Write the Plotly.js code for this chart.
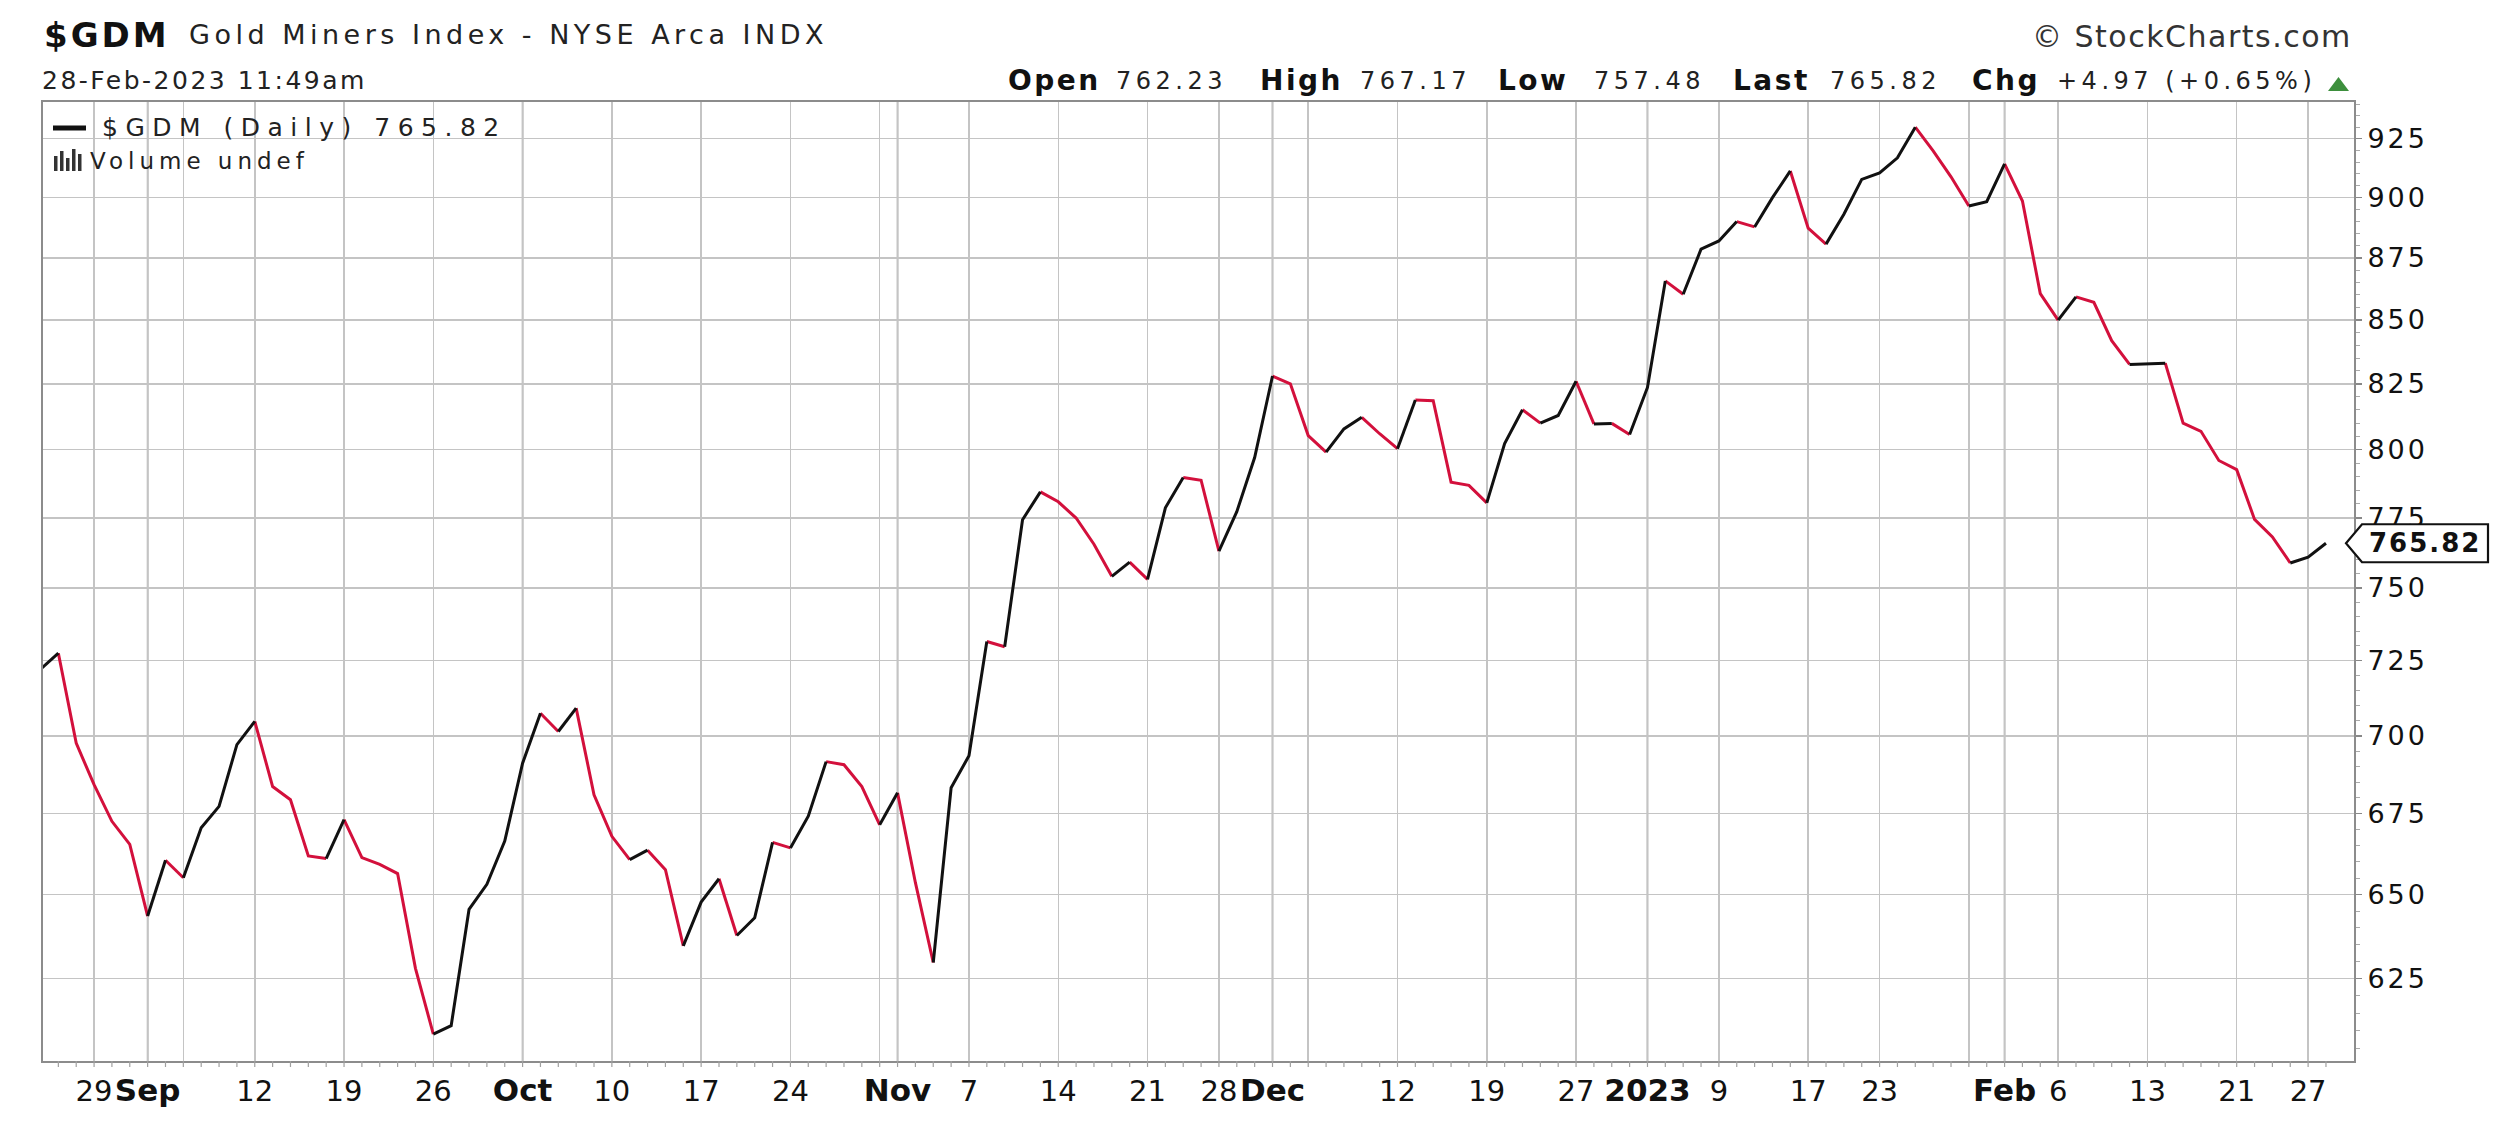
<!DOCTYPE html>
<html>
<head>
<meta charset="utf-8">
<script src="https://cdn.plot.ly/plotly-3.0.1.min.js"></script>
<style>
html,body{margin:0;padding:0;background:#ffffff;}
#chart{width:2500px;height:1125px;}
</style>
</head>
<body>
<div id="chart"></div>
<script>
// ---------------- DATA ----------------
const dates = [
'2022-08-24','2022-08-25','2022-08-26','2022-08-29','2022-08-30','2022-08-31','2022-09-01','2022-09-02',
'2022-09-06','2022-09-07','2022-09-08','2022-09-09','2022-09-12','2022-09-13','2022-09-14','2022-09-15','2022-09-16',
'2022-09-19','2022-09-20','2022-09-21','2022-09-22','2022-09-23','2022-09-26','2022-09-27','2022-09-28','2022-09-29','2022-09-30',
'2022-10-03','2022-10-04','2022-10-05','2022-10-06','2022-10-07','2022-10-10','2022-10-11','2022-10-12','2022-10-13','2022-10-14',
'2022-10-17','2022-10-18','2022-10-19','2022-10-20','2022-10-21','2022-10-24','2022-10-25','2022-10-26','2022-10-27','2022-10-28',
'2022-10-31','2022-11-01','2022-11-02','2022-11-03','2022-11-04','2022-11-07','2022-11-08','2022-11-09','2022-11-10','2022-11-11',
'2022-11-14','2022-11-15','2022-11-16','2022-11-17','2022-11-18','2022-11-21','2022-11-22','2022-11-23','2022-11-25',
'2022-11-28','2022-11-29','2022-11-30','2022-12-01','2022-12-02','2022-12-05','2022-12-06','2022-12-07','2022-12-08','2022-12-09',
'2022-12-12','2022-12-13','2022-12-14','2022-12-15','2022-12-16','2022-12-19','2022-12-20','2022-12-21','2022-12-22','2022-12-23',
'2022-12-27','2022-12-28','2022-12-29','2022-12-30','2023-01-03','2023-01-04','2023-01-05','2023-01-06',
'2023-01-09','2023-01-10','2023-01-11','2023-01-12','2023-01-13','2023-01-17','2023-01-18','2023-01-19','2023-01-20',
'2023-01-23','2023-01-24','2023-01-25','2023-01-26','2023-01-27','2023-01-30','2023-01-31','2023-02-01','2023-02-02','2023-02-03',
'2023-02-06','2023-02-07','2023-02-08','2023-02-09','2023-02-10','2023-02-13','2023-02-14','2023-02-15','2023-02-16','2023-02-17',
'2023-02-21','2023-02-22','2023-02-23','2023-02-24','2023-02-27','2023-02-28'
];
const closes = [
722.1,727.5,697.6,684.2,672.6,665.4,643.5,660.5,
655.1,670.6,677.3,697.1,704.7,683.6,679.4,661.8,661.0,
673.1,661.3,659.2,656.4,628.0,609.0,611.4,645.5,653.1,666.4,
691.1,707.4,701.4,709.1,681.0,667.9,660.7,663.6,657.6,634.6,
647.7,654.8,637.7,643.0,666.0,664.3,674.2,691.6,690.6,683.6,
671.5,681.6,653.6,629.7,683.2,693.5,731.5,729.7,774.3,784.4,
780.8,774.9,765.5,754.1,759.1,753.0,778.6,789.7,788.7,
763.0,777.2,797.1,828.0,825.0,805.3,799.1,807.8,812.2,806.0,
800.4,818.8,818.5,788.0,786.8,780.4,802.3,815.1,810.0,812.9,
826.0,809.7,809.9,805.7,823.6,865.6,860.2,878.5,
881.9,889.9,887.7,899.9,911.2,887.2,880.6,893.0,907.6,
910.4,916.8,930.0,919.8,908.7,896.4,898.2,914.2,898.5,860.5,
849.9,859.2,857.0,841.8,832.5,832.8,833.0,810.0,806.9,796.0,
792.6,774.4,768.1,758.8,760.85,765.82
];
const xTickDates = ['2022-08-29','2022-09-01','2022-09-06','2022-09-12','2022-09-19','2022-09-26','2022-10-03','2022-10-10',
'2022-10-17','2022-10-24','2022-10-31','2022-11-01','2022-11-07','2022-11-14','2022-11-21','2022-11-28','2022-12-01',
'2022-12-05','2022-12-12','2022-12-19','2022-12-27','2023-01-03','2023-01-09','2023-01-17','2023-01-23','2023-01-30',
'2023-02-01','2023-02-06','2023-02-13','2023-02-21','2023-02-27'];
const xTickLabels = ['29','Sep','','12','19','26','Oct','10','17','24','','Nov','7','14','21','28','Dec',
'','12','19','27','2023','9','17','23','','Feb','6','13','21','27'];
const monthLabels = ['Sep','Oct','Nov','Dec','2023','Feb'];
const monthStarts = ['2022-09-01','2022-10-03','2022-11-01','2022-12-01','2023-01-03','2023-02-01'];
const yTickValues = [625,650,675,700,725,750,775,800,825,850,875,900,925];

const symbol = '$GDM';
const indexName = 'Gold Miners Index - NYSE Arca INDX';
const stamp = '28-Feb-2023 11:49am';
const quoteLabels = ['Open','High','Low','Last','Chg'];
const quoteValues = ['762.23','767.17','757.48','765.82','+4.97 (+0.65%)'];
const legendText = '$GDM (Daily) 765.82';
const volumeText = 'Volume undef';
const credit = '\u00A9 StockCharts.com';

// ---------------- LAYOUT HELPERS ----------------
const W = 2500, H = 1125;
const L = 43, R = 2354, T = 102, B = 1061;
const px = x => (x - L) / (R - L);
const py = y => (B - y) / (B - T);
const ls = (t, s) => `<span style="letter-spacing:${s}px">${t}</span>`;
const FONT = "'DejaVu Sans', Verdana, sans-serif";

// up / down colored segments
function segments(up) {
  const xs = [], ys = [];
  let last = -5;
  for (let i = 1; i < closes.length; i++) {
    const isUp = closes[i] >= closes[i - 1];
    if (isUp !== up) continue;
    if (last !== i - 1) {
      if (xs.length) { xs.push(dates[i - 1]); ys.push(null); }
      xs.push(dates[i - 1]); ys.push(closes[i - 1]);
    }
    xs.push(dates[i]); ys.push(closes[i]);
    last = i;
  }
  return {xs, ys};
}
const upSeg = segments(true), downSeg = segments(false);

const traces = [
  {x: downSeg.xs, y: downSeg.ys, type: 'scatter', mode: 'lines', connectgaps: false,
   line: {color: '#d3103c', width: 3}, hoverinfo: 'skip', showlegend: false},
  {x: upSeg.xs, y: upSeg.ys, type: 'scatter', mode: 'lines', connectgaps: false,
   line: {color: '#111111', width: 3}, hoverinfo: 'skip', showlegend: false}
];

const yMinor = [];
for (let v = 605; v <= 940; v += 5) if (v % 25 !== 0) yMinor.push(v);

const lastClose = closes[closes.length - 1];

const shapes = [];
// month separator lines
monthStarts.forEach(d => shapes.push({type: 'line', xref: 'x', yref: 'paper', x0: d, x1: d, y0: 0, y1: 1,
  line: {color: '#8a8a8a', width: 1.6}, layer: 'between'}));
// daily tick marks under the axis
dates.forEach(d => shapes.push({type: 'line', xref: 'x', yref: 'paper', x0: d, x1: d, y0: 0, y1: -6 / (B - T),
  line: {color: '#a0a0a0', width: 1.2}, layer: 'above'}));
// legend dash
shapes.push({type: 'line', xref: 'paper', yref: 'paper', x0: px(53), x1: px(86), y0: py(128), y1: py(128),
  line: {color: '#111', width: 5}});
// volume icon bars
[[54, 156], [60, 151], [66, 158], [72, 149], [78, 154]].forEach(b => shapes.push({
  type: 'rect', xref: 'paper', yref: 'paper', x0: px(b[0]), x1: px(b[0] + 3.5), y0: py(171), y1: py(b[1]),
  fillcolor: '#333', line: {width: 0}}));
// green up triangle
shapes.push({type: 'path', xref: 'paper', yref: 'paper',
  path: `M ${px(2328)},${py(91)} L ${px(2349)},${py(91)} L ${px(2338.5)},${py(77)} Z`,
  fillcolor: '#3d8f3d', line: {width: 0}});
// last value arrow box
shapes.push({type: 'path', xref: 'paper', yref: 'y', ysizemode: 'pixel', yanchor: lastClose,
  path: `M ${px(2346)},0 L ${px(2362)},19 L ${px(2488)},19 L ${px(2488)},-19 L ${px(2362)},-19 Z`,
  fillcolor: '#ffffff', line: {color: '#111', width: 2.2}, layer: 'above'});

const annotations = [
  {x: px(42), y: py(35), text: '<b>' + ls(symbol, 3) + '</b>', font: {family: FONT, size: 34, color: '#111'}},
  {x: px(187), y: py(34), text: ls(indexName, 4.5), font: {family: FONT, size: 27, color: '#222'}},
  {x: px(40), y: py(80), text: ls(stamp, 2.5), font: {family: FONT, size: 25, color: '#222'}},
  {x: px(2354), y: py(36), xanchor: 'right', text: ls(credit, 1.5), font: {family: FONT, size: 30, color: '#333'}},
  {x: px(100), y: py(128), text: ls(legendText, 7.5), font: {family: FONT, size: 25, color: '#222'}},
  {x: px(88), y: py(161), text: ls(volumeText, 5), font: {family: FONT, size: 23, color: '#222'}},
  {x: px(2425), xref: 'paper', y: Math.log10(lastClose), yref: 'y', xanchor: 'center',
   text: '<b>' + ls(lastClose.toFixed(2), 2) + '</b>', font: {family: FONT, size: 26, color: '#111'}}
];
const quoteLabelX = [1006, 1258, 1496, 1731, 1970];
const quoteValueX = [1114, 1358, 1592, 1828, 2055];
quoteLabels.forEach((q, i) => {
  annotations.push({x: px(quoteLabelX[i]), y: py(80), text: '<b>' + ls(q, 2.5) + '</b>',
    font: {family: FONT, size: 28, color: '#111'}});
  annotations.push({x: px(quoteValueX[i]), y: py(81), text: ls(quoteValues[i], 4.5),
    font: {family: FONT, size: 24, color: '#222'}});
});
annotations.forEach(a => {
  if (!a.xref) a.xref = 'paper';
  if (!a.yref) a.yref = 'paper';
  if (!a.xanchor) a.xanchor = 'left';
  a.yanchor = 'middle';
  a.showarrow = false;
});

const tickText = xTickLabels.map(t => monthLabels.includes(t)
  ? `<b><span style="font-size:31px">${t}</span></b>` : t);

const layout = {
  width: W, height: H,
  margin: {l: L, r: W - R, t: T, b: H - B, pad: 0},
  paper_bgcolor: '#ffffff', plot_bgcolor: '#ffffff',
  showlegend: false,
  font: {family: FONT, color: '#111'},
  xaxis: {
    type: 'category', categoryorder: 'array', categoryarray: dates,
    range: [0.14, 129.57], autorange: false,
    tickmode: 'array', tickvals: xTickDates, ticktext: tickText,
    tickfont: {family: FONT, size: 29, color: '#111'},
    showgrid: true, gridcolor: '#c4c4c4', gridwidth: 1.5,
    ticks: '', ticklabelstandoff: 3,
    showline: true, mirror: true, linecolor: '#8c8c8c', linewidth: 2,
    zeroline: false, fixedrange: true
  },
  yaxis: {
    type: 'log', side: 'right',
    range: [Math.log10(601.4), Math.log10(941)], autorange: false,
    tickmode: 'array', tickvals: yTickValues, ticktext: yTickValues.map(v => ls(String(v), 3)),
    tickfont: {family: FONT, size: 27, color: '#111'},
    showgrid: true, gridcolor: '#c4c4c4', gridwidth: 1.5,
    ticks: 'outside', ticklen: 6, tickwidth: 1.5, tickcolor: '#888',
    minor: {tickmode: 'array', tickvals: yMinor, ticks: 'outside', ticklen: 4, tickwidth: 1, tickcolor: '#aaa', showgrid: false},
    showline: true, mirror: true, linecolor: '#8c8c8c', linewidth: 2,
    zeroline: false, fixedrange: true
  },
  shapes: shapes,
  annotations: annotations
};

Plotly.newPlot('chart', traces, layout, {staticPlot: true, displayModeBar: false});
</script>
</body>
</html>
